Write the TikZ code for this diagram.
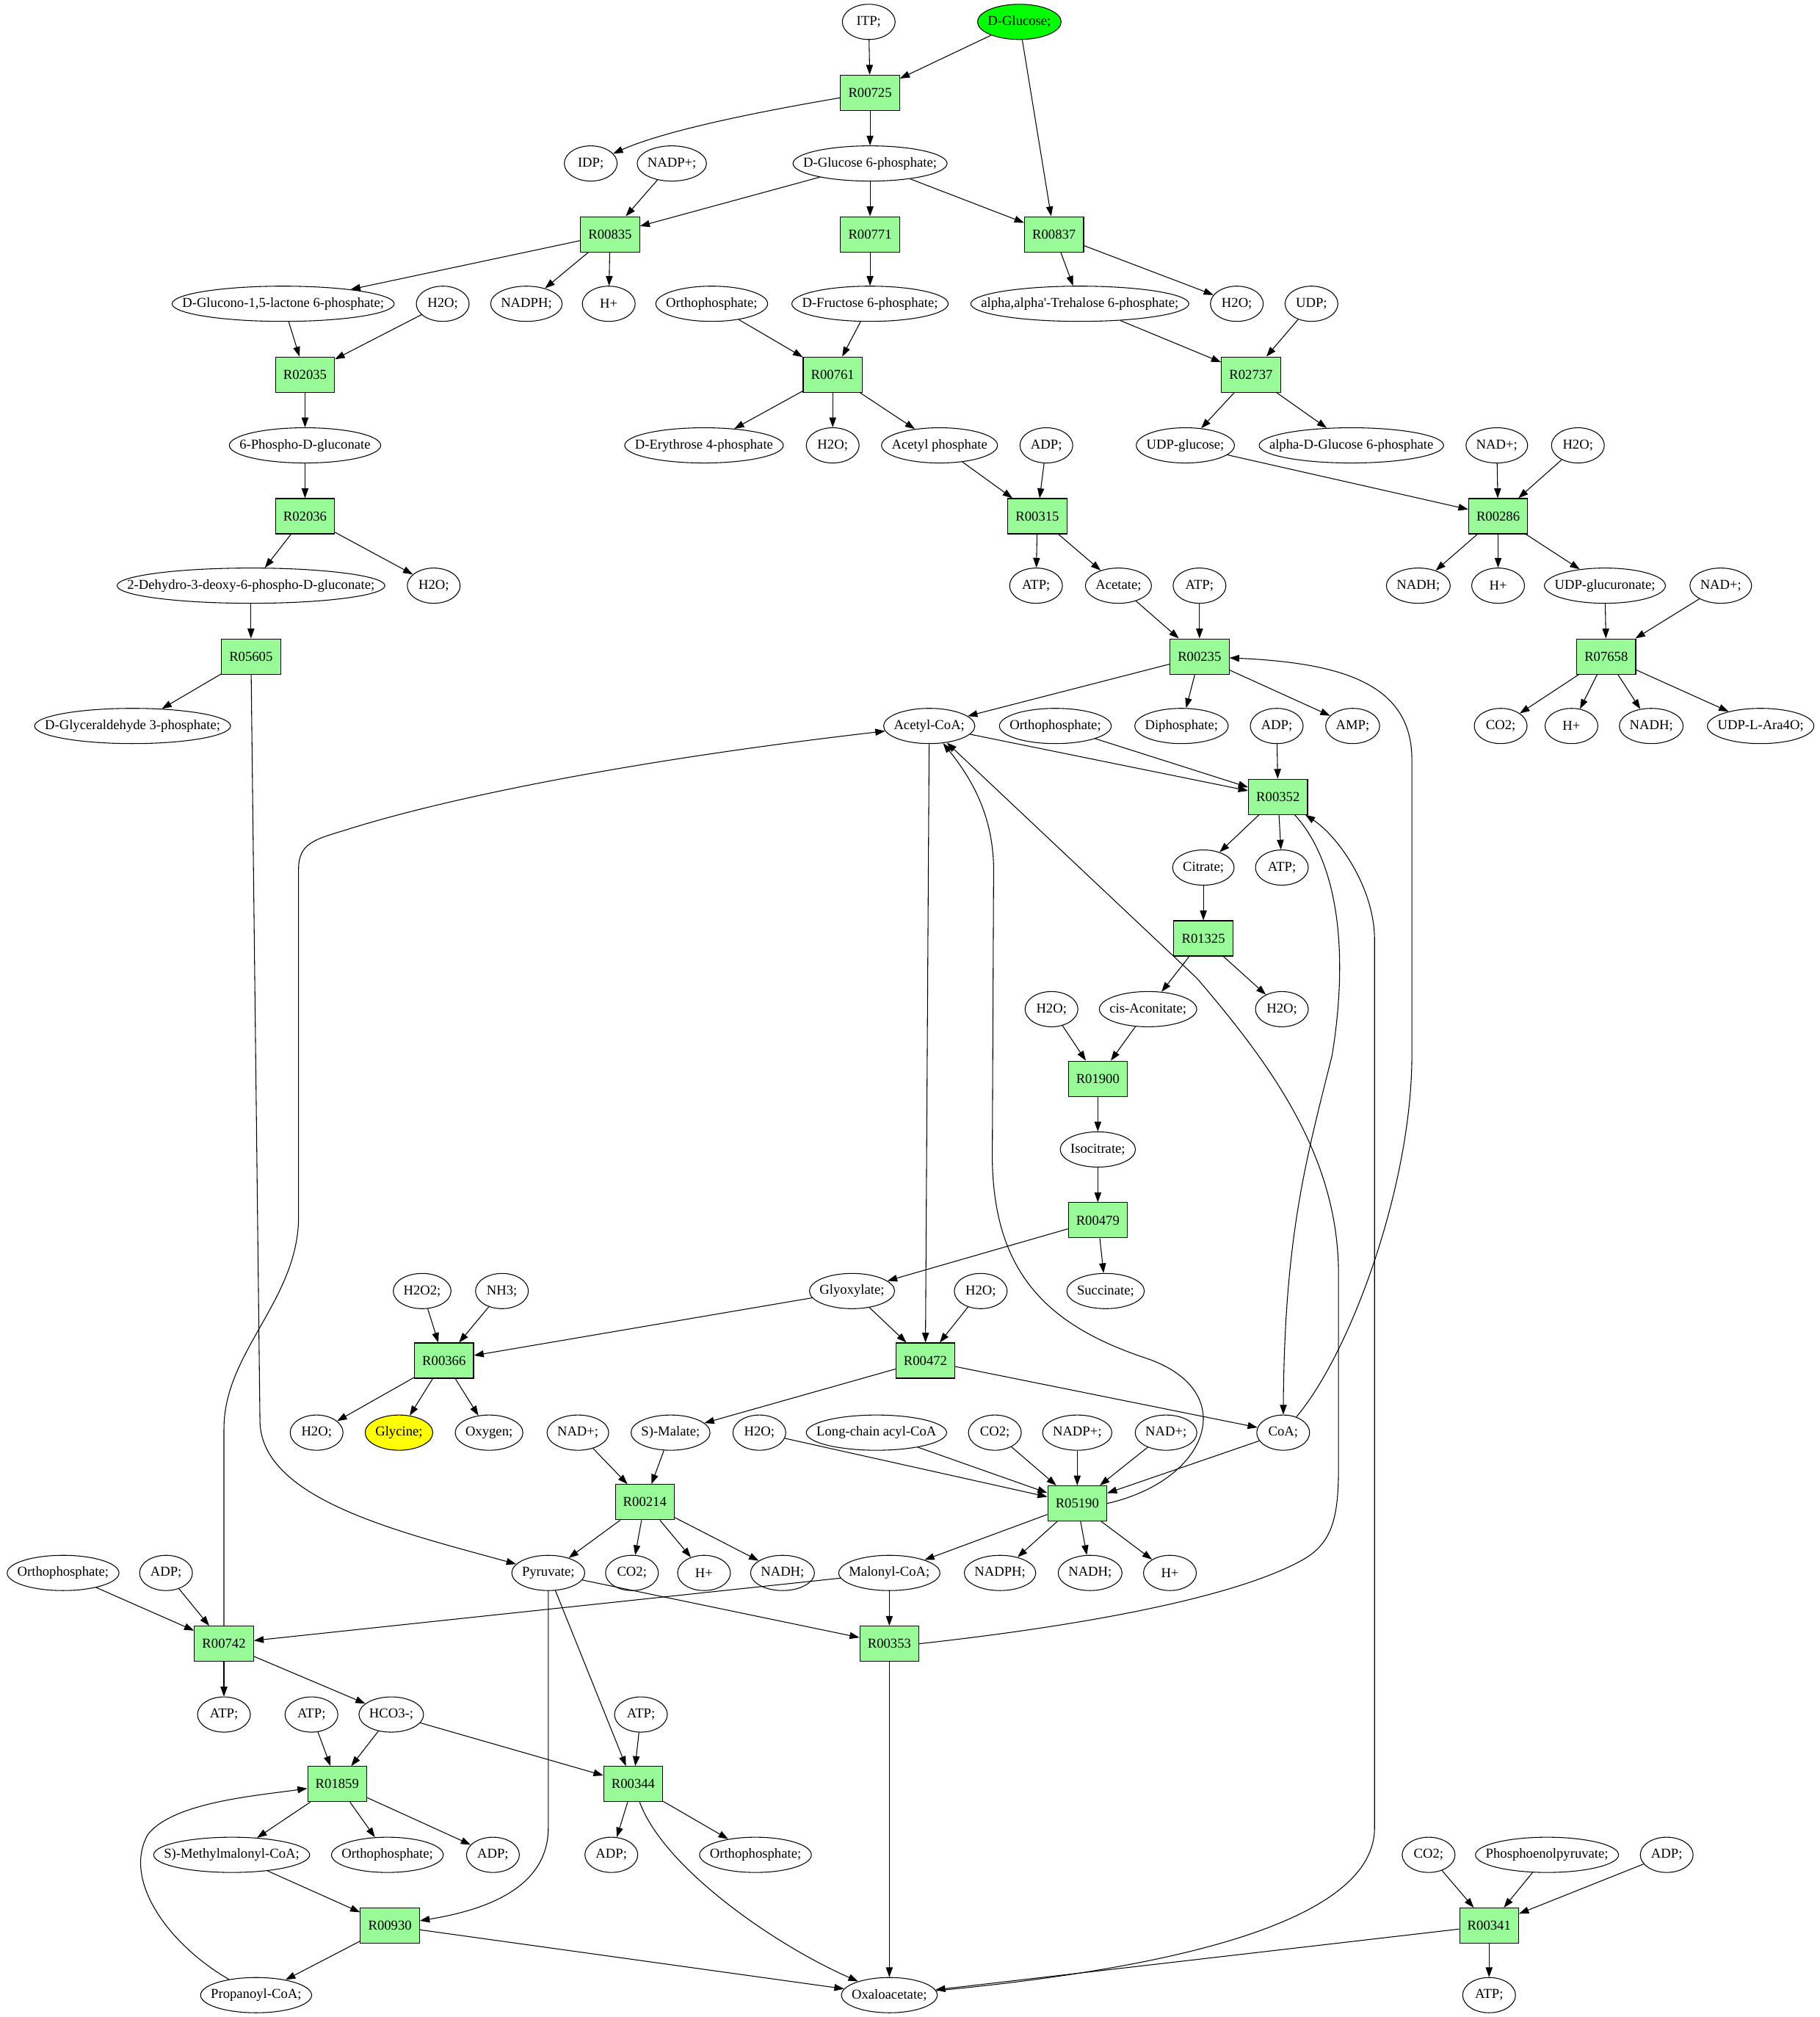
\documentclass[tikz,border=0pt]{standalone}
\usepackage{fontspec}
\setmainfont{Liberation Serif}
\usepackage{tikz}
\usetikzlibrary{shapes.geometric, arrows.meta}
\definecolor{rxncolor}{RGB}{152, 251, 152}
\definecolor{glccolor}{RGB}{0, 255, 0}
\definecolor{glycolor}{RGB}{255, 255, 0}

\begin{document}
\begin{tikzpicture}[
    x=1.315pt, y=-1.315pt,
    line width=0.8pt,
    >={Stealth[length=10pt, width=7pt, inset=0pt]},
    met/.style={draw, ellipse, minimum width=54pt, minimum height=36pt, inner ysep=0pt, inner xsep={7.4pt-0.1464*\wd\pgfnodeparttextbox}, font=\fontsize{14}{16}\selectfont},
    rxn/.style={draw, fill=rxncolor, minimum width=54pt, minimum height=36pt, inner xsep=8pt, font=\fontsize{14}{16}\selectfont}
]
    \useasboundingbox (0,0) rectangle (1414,1567);

    % Glucose entry
    \node[met] (itp) at (675,17) {ITP;};
    \node[met, fill=glccolor] (glc) at (792,17) {D-Glucose;};
    \node[rxn] (r00725) at (676,72) {R00725};
    \node[met] (idp) at (459,127) {IDP;};
    \node[met] (nadpa) at (522,127) {NADP+;};
    \node[met] (gsixp) at (676,127) {D-Glucose 6-phosphate;};
    \node[rxn] (r00835) at (474,182) {R00835};
    \node[rxn] (r00771) at (676,182) {R00771};
    \node[rxn] (r00837) at (819,182) {R00837};

    % Second row of products
    \node[met] (glnlac) at (220,236) {D-Glucono-1,5-lactone 6-phosphate;};
    \node[met] (h2oa) at (344,236) {H2O;};
    \node[met] (nadpha) at (409,236) {NADPH;};
    \node[met] (ha) at (473,236) {H+};
    \node[met] (pia) at (553,236) {Orthophosphate;};
    \node[met] (fsixp) at (676,236) {D-Fructose 6-phosphate;};
    \node[met] (tresixp) at (839,236) {alpha,alpha\textquotesingle-Trehalose 6-phosphate;};
    \node[met] (h2ob) at (961,236) {H2O;};
    \node[met] (udp) at (1019,236) {UDP;};
    \node[rxn] (r02035) at (237,291) {R02035};
    \node[rxn] (r00761) at (647,291) {R00761};
    \node[rxn] (r02737) at (972,291) {R02737};

    \node[met] (sixpg) at (237,346) {6-Phospho-D-gluconate};
    \node[met] (efourp) at (547,346) {D-Erythrose 4-phosphate};
    \node[met] (h2oc) at (647,346) {H2O;};
    \node[met] (acp) at (730,346) {Acetyl phosphate};
    \node[met] (adpa) at (813,346) {ADP;};
    \node[met] (udpglc) at (921,346) {UDP-glucose;};
    \node[met] (gasixp) at (1050,346) {alpha-D-Glucose 6-phosphate};
    \node[met] (nada) at (1163,346) {NAD+;};
    \node[met] (h2od) at (1226,346) {H2O;};
    \node[rxn] (r02036) at (237,401) {R02036};
    \node[rxn] (r00315) at (806,401) {R00315};
    \node[rxn] (r00286) at (1164,401) {R00286};

    \node[met] (kdpg) at (195,455) {2-Dehydro-3-deoxy-6-phospho-D-gluconate;};
    \node[met] (h2oe) at (337,455) {H2O;};
    \node[met] (atpa) at (805,455) {ATP;};
    \node[met] (acetate) at (869,455) {Acetate;};
    \node[met] (atpb) at (932,455) {ATP;};
    \node[met] (nadha) at (1102,455) {NADH;};
    \node[met] (hb) at (1164,455) {H+};
    \node[met] (udpgca) at (1247,455) {UDP-glucuronate;};
    \node[met] (nadb) at (1337,455) {NAD+;};
    \node[rxn] (r05605) at (195,510) {R05605};
    \node[rxn] (r00235) at (932,510) {R00235};
    \node[rxn] (r07658) at (1248,510) {R07658};

    % Acetyl-CoA and citrate cycle
    \node[met] (gap) at (103,564) {D-Glyceraldehyde 3-phosphate;};
    \node[met] (accoa) at (722,564) {Acetyl-CoA;};
    \node[met] (pib) at (820,564) {Orthophosphate;};
    \node[met] (ppi) at (918,564) {Diphosphate;};
    \node[met] (adpb) at (992,564) {ADP;};
    \node[met] (amp) at (1051,564) {AMP;};
    \node[met] (co2a) at (1166,564) {CO2;};
    \node[met] (hc) at (1221,564) {H+};
    \node[met] (nadhb) at (1283,564) {NADH;};
    \node[met] (udpara) at (1368,564) {UDP-L-Ara4O;};
    \node[rxn] (r00352) at (993,619) {R00352};
    \node[met] (citrate) at (935,674) {Citrate;};
    \node[met] (atpc) at (996,674) {ATP;};
    \node[rxn] (r01325) at (935,729) {R01325};
    \node[met] (h2of) at (817,784) {H2O;};
    \node[met] (cisaco) at (892,784) {cis-Aconitate;};
    \node[met] (h2og) at (996,784) {H2O;};
    \node[rxn] (r01900) at (853,838) {R01900};
    \node[met] (icit) at (853,893) {Isocitrate;};
    \node[rxn] (r00479) at (853,948) {R00479};

    % Glyoxylate shunt
    \node[met] (hhoo) at (328,1003) {H2O2;};
    \node[met] (nh3) at (390,1003) {NH3;};
    \node[met] (glyox) at (662,1003) {Glyoxylate;};
    \node[met] (h2oh) at (762,1003) {H2O;};
    \node[met] (succ) at (859,1003) {Succinate;};
    \node[rxn] (r00366) at (345,1057) {R00366};
    \node[rxn] (r00472) at (719,1057) {R00472};

    \node[met] (h2oi) at (246,1113) {H2O;};
    \node[met, fill=glycolor] (gly) at (310,1113) {Glycine;};
    \node[met] (oxy) at (380,1113) {Oxygen;};
    \node[met] (nadc) at (449,1113) {NAD+;};
    \node[met] (malate) at (521,1113) {S)-Malate;};
    \node[met] (h2oj) at (590,1113) {H2O;};
    \node[met] (lcacoa) at (681,1113) {Long-chain acyl-CoA};
    \node[met] (co2b) at (773,1113) {CO2;};
    \node[met] (nadpb) at (837,1113) {NADP+;};
    \node[met] (nadd) at (906,1113) {NAD+;};
    \node[met] (coa) at (997,1113) {CoA;};
    \node[rxn] (r00214) at (501,1167) {R00214};
    \node[rxn] (r05190) at (837,1168) {R05190};

    % Pyruvate and oxaloacetate
    \node[met] (pic) at (49,1222) {Orthophosphate;};
    \node[met] (adpc) at (129,1222) {ADP;};
    \node[met] (pyr) at (426,1222) {Pyruvate;};
    \node[met] (co2c) at (491,1222) {CO2;};
    \node[met] (hd) at (547,1222) {H+};
    \node[met] (nadhc) at (608,1222) {NADH;};
    \node[met] (malcoa) at (691,1222) {Malonyl-CoA;};
    \node[met] (nadphb) at (777,1222) {NADPH;};
    \node[met] (nadhd) at (847,1222) {NADH;};
    \node[met] (he) at (909,1222) {H+};
    \node[rxn] (r00742) at (174,1277) {R00742};
    \node[rxn] (r00353) at (691,1277) {R00353};

    \node[met] (atpd) at (174,1332) {ATP;};
    \node[met] (atpe) at (242,1332) {ATP;};
    \node[met] (hco3) at (304,1332) {HCO3-;};
    \node[met] (atpf) at (498,1332) {ATP;};
    \node[rxn] (r01859) at (262,1386) {R01859};
    \node[rxn] (r00344) at (492,1386) {R00344};

    \node[met] (mmcoa) at (180,1441) {S)-Methylmalonyl-CoA;};
    \node[met] (pid) at (301,1441) {Orthophosphate;};
    \node[met] (adpd) at (383,1441) {ADP;};
    \node[met] (adpe) at (475,1441) {ADP;};
    \node[met] (pie) at (587,1441) {Orthophosphate;};
    \node[met] (co2d) at (1110,1441) {CO2;};
    \node[met] (pep) at (1202,1441) {Phosphoenolpyruvate;};
    \node[met] (adpf) at (1295,1441) {ADP;};
    \node[rxn] (r00930) at (303,1496) {R00930};
    \node[rxn] (r00341) at (1157,1496) {R00341};

    \node[met] (propcoa) at (199,1550) {Propanoyl-CoA;};
    \node[met] (oaa) at (691,1550) {Oxaloacetate;};
    \node[met] (atpg) at (1157,1550) {ATP;};

    % Connections
    \draw[->] (itp) -- (r00725);
    \draw[->] (glc) -- (r00725);
    \draw[->] (glc) -- (r00837);
    \draw[->] (r00725) .. controls (600,85) and (520,100) .. (idp);
    \draw[->] (r00725) -- (gsixp);
    \draw[->] (nadpa) -- (r00835);
    \draw[->] (gsixp) -- (r00835);
    \draw[->] (gsixp) -- (r00771);
    \draw[->] (gsixp) -- (r00837);
    \draw[->] (r00835) -- (glnlac);
    \draw[->] (r00835) -- (nadpha);
    \draw[->] (r00835) -- (ha);
    \draw[->] (r00771) -- (fsixp);
    \draw[->] (r00837) -- (tresixp);
    \draw[->] (r00837) -- (h2ob);

    \draw[->] (glnlac) -- (r02035);
    \draw[->] (h2oa) -- (r02035);
    \draw[->] (pia) -- (r00761);
    \draw[->] (fsixp) -- (r00761);
    \draw[->] (tresixp) -- (r02737);
    \draw[->] (udp) -- (r02737);
    \draw[->] (r02035) -- (sixpg);
    \draw[->] (r00761) -- (efourp);
    \draw[->] (r00761) -- (h2oc);
    \draw[->] (r00761) -- (acp);
    \draw[->] (r02737) -- (udpglc);
    \draw[->] (r02737) -- (gasixp);

    \draw[->] (sixpg) -- (r02036);
    \draw[->] (acp) -- (r00315);
    \draw[->] (adpa) -- (r00315);
    \draw[->] (udpglc) -- (r00286);
    \draw[->] (nada) -- (r00286);
    \draw[->] (h2od) -- (r00286);
    \draw[->] (r02036) -- (kdpg);
    \draw[->] (r02036) -- (h2oe);
    \draw[->] (r00315) -- (atpa);
    \draw[->] (r00315) -- (acetate);
    \draw[->] (r00286) -- (nadha);
    \draw[->] (r00286) -- (hb);
    \draw[->] (r00286) -- (udpgca);

    \draw[->] (kdpg) -- (r05605);
    \draw[->] (acetate) -- (r00235);
    \draw[->] (atpb) -- (r00235);
    \draw[->] (udpgca) -- (r07658);
    \draw[->] (nadb) -- (r07658);
    \draw[->] (r05605) -- (gap);
    \draw[->] (r05605) -- (202,1105) .. controls (204,1165) and (310,1190) .. (pyr);
    \draw[->] (r00235) -- (accoa);
    \draw[->] (r00235) -- (ppi);
    \draw[->] (r00235) -- (amp);
    \draw[->] (r07658) -- (co2a);
    \draw[->] (r07658) -- (hc);
    \draw[->] (r07658) -- (nadhb);
    \draw[->] (r07658) -- (udpara);

    % Citrate cycle
    \draw[->] (accoa) -- (r00352);
    \draw[->] (pib) -- (r00352);
    \draw[->] (adpb) -- (r00352);
    \draw[->] (r00352) -- (citrate);
    \draw[->] (r00352) -- (atpc);
    \draw[->] (r00352) .. controls (1040,670) and (1048,740) .. (1035,820) .. controls (1015,900) and (998,960) .. (coa);
    \draw[->] (citrate) -- (r01325);
    \draw[->] (r01325) -- (cisaco);
    \draw[->] (r01325) -- (h2og);
    \draw[->] (h2of) -- (r01900);
    \draw[->] (cisaco) -- (r01900);
    \draw[->] (r01900) -- (icit);
    \draw[->] (icit) -- (r00479);
    \draw[->] (r00479) -- (glyox);
    \draw[->] (r00479) -- (succ);

    % Glyoxylate shunt
    \draw[->] (hhoo) -- (r00366);
    \draw[->] (nh3) -- (r00366);
    \draw[->] (glyox) -- (r00366);
    \draw[->] (glyox) -- (r00472);
    \draw[->] (h2oh) -- (r00472);
    \draw[->] (accoa) -- (r00472);
    \draw[->] (r00366) -- (h2oi);
    \draw[->] (r00366) -- (gly);
    \draw[->] (r00366) -- (oxy);
    \draw[->] (r00472) -- (malate);
    \draw[->] (r00472) -- (coa);
    \draw[->] (coa) .. controls (1050,1050) and (1097,920) .. (1097,820) -- (1097,590) .. controls (1097,530) and (1040,515) .. (r00235);

    \draw[->] (nadc) -- (r00214);
    \draw[->] (malate) -- (r00214);
    \draw[->] (h2oj) -- (r05190);
    \draw[->] (lcacoa) -- (r05190);
    \draw[->] (co2b) -- (r05190);
    \draw[->] (nadpb) -- (r05190);
    \draw[->] (nadd) -- (r05190);
    \draw[->] (coa) -- (r05190);
    \draw[->] (r00214) -- (pyr);
    \draw[->] (r00214) -- (co2c);
    \draw[->] (r00214) -- (hd);
    \draw[->] (r00214) -- (nadhc);
    \draw[->] (r05190) -- (malcoa);
    \draw[->] (r05190) -- (nadphb);
    \draw[->] (r05190) -- (nadhd);
    \draw[->] (r05190) -- (he);
    \draw[->] (r05190.east) .. controls (940,1150) and (965,1080) .. (890,1055) .. controls (815,1030) and (772,990) .. (771,900) -- (772,680) .. controls (773,635) and (755,605) .. (accoa);

    % Pyruvate branch
    \draw[->] (pic) -- (r00742);
    \draw[->] (adpc) -- (r00742);
    \draw[->] (malcoa) -- (r00742);
    \draw[->] (pyr) -- (r00353);
    \draw[->] (malcoa) -- (r00353);
    \draw[->] (r00742) -- (174,1110) .. controls (174,1050) and (232,1010) .. (232,945) -- (232,675) .. controls (232,655) and (245,652) .. (268,645) .. controls (340,622) and (480,592) .. (accoa);
    \draw[->] (r00353.east) .. controls (850,1262) and (960,1240) .. (1010,1213) .. controls (1035,1200) and (1040,1180) .. (1040,1140) -- (1040,990) .. controls (1040,900) and (990,830) .. (930,760) -- (accoa);
    \draw[->] (r00742) -- (atpd);
    \draw[->] (r00742) -- (hco3);
    \draw[->] (atpe) -- (r01859);
    \draw[->] (hco3) -- (r01859);
    \draw[->] (hco3) -- (r00344);
    \draw[->] (pyr) -- (r00344);
    \draw[->] (atpf) -- (r00344);
    \draw[->] (r00353) -- (oaa);

    \draw[->] (r01859) -- (mmcoa);
    \draw[->] (r01859) -- (pid);
    \draw[->] (r01859) -- (adpd);
    \draw[->] (r00344) -- (adpe);
    \draw[->] (r00344) -- (pie);
    \draw[->] (r00344) .. controls (515,1450) and (600,1510) .. (oaa);
    \draw[->] (mmcoa) -- (r00930);
    \draw[->] (pyr) -- (426,1420) .. controls (426,1470) and (370,1485) .. (r00930);
    \draw[->] (co2d) -- (r00341);
    \draw[->] (pep) -- (r00341);
    \draw[->] (adpf) -- (r00341);

    \draw[->] (r00930) -- (propcoa);
    \draw[->] (r00930) -- (oaa);
    \draw[->] (propcoa) .. controls (130,1510) and (95,1460) .. (115,1425) .. controls (135,1400) and (200,1395) .. (r01859);
    \draw[->] (r00341) -- (atpg);
    \draw[->] (r00341) -- (oaa);
    \draw[->] (oaa) .. controls (880,1532) and (1068,1500) .. (1068,1420) -- (1068,730) .. controls (1068,690) and (1040,650) .. (r00352);

\end{tikzpicture}
\end{document}
